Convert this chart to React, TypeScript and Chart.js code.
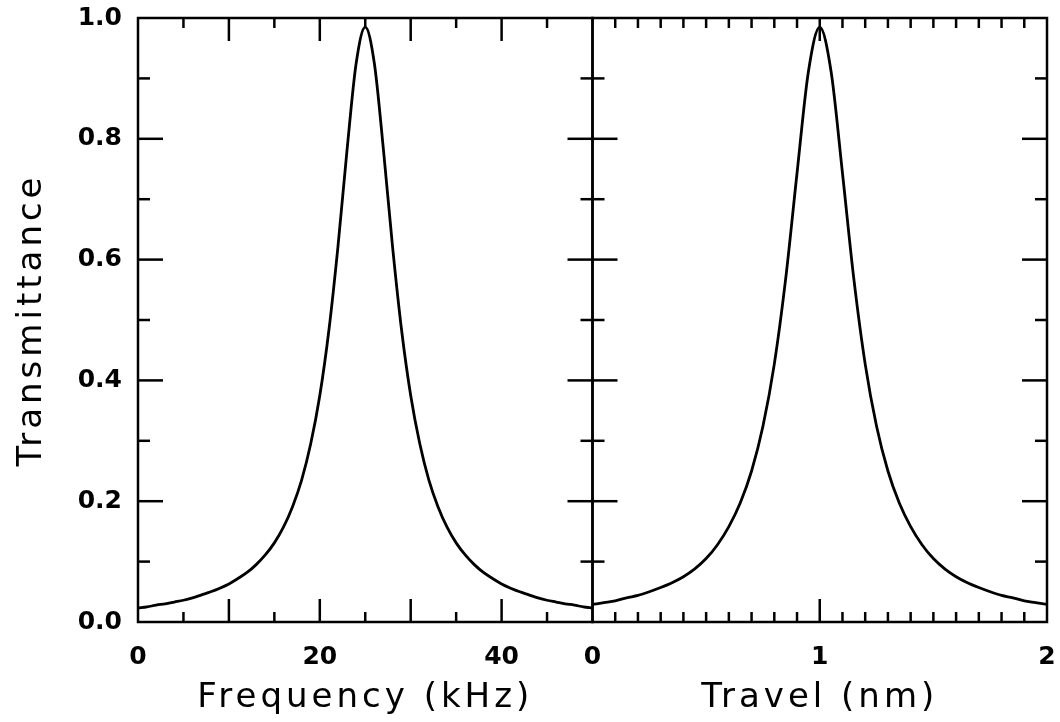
import React, { useEffect, useRef } from 'react';
import { Chart, registerables } from 'chart.js';

Chart.register(...registerables);

// ---- data ----
const freqKHz = [
  0, 1, 2, 3, 4, 5, 6, 7, 8, 9, 10, 11, 12, 13, 14, 15, 16, 17, 18, 19, 20, 21, 22, 23, 24, 25,
  26, 27, 28, 29, 30, 31, 32, 33, 34, 35, 36, 37, 38, 39, 40, 41, 42, 43, 44, 45, 46, 47, 48, 49, 50,
];
const transFreq = [
  0.023, 0.025, 0.028, 0.030, 0.033, 0.036, 0.040, 0.045, 0.050, 0.056, 0.063, 0.072, 0.082, 0.095,
  0.111, 0.131, 0.157, 0.191, 0.235, 0.295, 0.375, 0.483, 0.622, 0.782, 0.925, 0.985,
  0.925, 0.782, 0.622, 0.483, 0.375, 0.295, 0.235, 0.191, 0.157, 0.131, 0.111, 0.095, 0.082, 0.072,
  0.063, 0.056, 0.050, 0.045, 0.040, 0.036, 0.033, 0.030, 0.028, 0.025, 0.023,
];

const travelNm = [
  0, 0.05, 0.1, 0.15, 0.2, 0.25, 0.3, 0.35, 0.4, 0.45, 0.5, 0.55, 0.6, 0.65, 0.7, 0.75, 0.8, 0.85,
  0.9, 0.95, 1.0, 1.05, 1.1, 1.15, 1.2, 1.25, 1.3, 1.35, 1.4, 1.45, 1.5, 1.55, 1.6, 1.65, 1.7, 1.75,
  1.8, 1.85, 1.9, 1.95, 2.0,
];
const transTravel = [
  0.029, 0.032, 0.035, 0.040, 0.044, 0.050, 0.057, 0.065, 0.075, 0.088, 0.105, 0.128, 0.158, 0.197,
  0.250, 0.324, 0.427, 0.568, 0.743, 0.911, 0.985, 0.911, 0.743, 0.568, 0.427, 0.324, 0.250, 0.197,
  0.158, 0.128, 0.105, 0.088, 0.075, 0.065, 0.057, 0.050, 0.044, 0.040, 0.035, 0.032, 0.029,
];

const freqTickLabels = [0, 20, 40];
const travelTickLabels = [0, 1, 2];
const yTickLabels = [0, 0.2, 0.4, 0.6, 0.8, 1.0];

const freqRange = [0, 50];
const travelRange = [0, 2];
const yRange = [0, 1];
const freqMajorStep = 10;
const freqMinorStep = 5;
const travelMajorStep = 1;
const travelMinorStep = 0.1;
const yMajorStep = 0.2;
const yMinorStep = 0.1;

const xTitleLeft = 'Frequency (kHz)';
const xTitleRight = 'Travel (nm)';
const yTitle = 'Transmittance';

const FONT = "'DejaVu Sans', sans-serif";
const TITLE_SPACING = '4px';

const isMult = (v: number, step: number) => Math.abs(v / step - Math.round(v / step)) < 1e-6;

const zeroPadding = (s: any) => {
  s.paddingTop = 0;
  s.paddingBottom = 0;
  s.paddingLeft = 0;
  s.paddingRight = 0;
};

const framePlugin = {
  id: 'panelFrames',
  beforeDraw(chart: any) {
    Object.values(chart.scales).forEach((s: any) => {
      if (!s.__spaced) {
        const orig = s.drawTitle;
        s.drawTitle = function (...args: any[]) {
          const c = this.ctx;
          c.save();
          c.letterSpacing = TITLE_SPACING;
          orig.apply(this, args);
          c.restore();
        };
        s.__spaced = true;
      }
    });
  },
  afterDatasetsDraw(chart: any) {
    const { ctx } = chart;
    const y = chart.scales.y;
    const yTop = y.getPixelForValue(yRange[1]);
    const yBot = y.getPixelForValue(yRange[0]);
    const panels = [
      { scale: chart.scales.x1, range: freqRange, major: freqMajorStep, minor: freqMinorStep },
      { scale: chart.scales.x2, range: travelRange, major: travelMajorStep, minor: travelMinorStep },
    ];
    ctx.save();
    ctx.strokeStyle = '#000';
    ctx.lineWidth = 2.5;
    ctx.lineCap = 'butt';
    const line = (x1: number, y1: number, x2: number, y2: number) => {
      ctx.beginPath();
      ctx.moveTo(x1, y1);
      ctx.lineTo(x2, y2);
      ctx.stroke();
    };
    panels.forEach(({ scale, range, major, minor }) => {
      const l = scale.getPixelForValue(range[0]);
      const r = scale.getPixelForValue(range[1]);
      ctx.strokeRect(l, yTop, r - l, yBot - yTop);
      const n = Math.round((range[1] - range[0]) / minor);
      for (let i = 1; i < n; i++) {
        const v = range[0] + i * minor;
        const len = isMult(v, major) ? 23 : 10;
        const px = scale.getPixelForValue(v);
        line(px, yBot, px, yBot - len);
        line(px, yTop, px, yTop + len);
      }
      const m = Math.round((yRange[1] - yRange[0]) / yMinorStep);
      for (let j = 1; j < m; j++) {
        const v = yRange[0] + j * yMinorStep;
        const len = isMult(v, yMajorStep) ? 25 : 12;
        const py = y.getPixelForValue(v);
        line(l, py, l + len, py);
        line(r, py, r - len, py);
      }
    });
    ctx.restore();
  },
};

export default function App() {
  const canvasRef = useRef<HTMLCanvasElement | null>(null);

  useEffect(() => {
    const canvas = canvasRef.current;
    if (!canvas) return;
    const tickFont = { family: FONT, size: 25, weight: 'bold' as const };
    const titleFont = { family: FONT, size: 34, weight: 'normal' as const };

    const chart = new Chart(canvas, {
      type: 'line',
      data: {
        datasets: [
          {
            data: freqKHz.map((x, i) => ({ x, y: transFreq[i] })),
            xAxisID: 'x1',
            yAxisID: 'y',
            borderColor: '#000',
            borderWidth: 2.8,
            pointRadius: 0,
            cubicInterpolationMode: 'monotone',
            fill: false,
          },
          {
            data: travelNm.map((x, i) => ({ x, y: transTravel[i] })),
            xAxisID: 'x2',
            yAxisID: 'y',
            borderColor: '#000',
            borderWidth: 2.8,
            pointRadius: 0,
            cubicInterpolationMode: 'monotone',
            fill: false,
          },
        ],
      },
      options: {
        responsive: false,
        animation: false,
        events: [],
        layout: { padding: { left: 0, top: 18, right: 13, bottom: 0 } },
        plugins: { legend: { display: false }, tooltip: { enabled: false } },
        scales: {
          x1: {
            type: 'linear',
            position: 'bottom',
            stack: 'panels',
            stackWeight: 1,
            min: freqRange[0],
            max: freqRange[1],
            afterBuildTicks: (s: any) => {
              s.ticks = freqTickLabels.map((value) => ({ value }));
            },
            afterFit: (s: any) => {
              s.height = 100;
              zeroPadding(s);
            },
            grid: { display: false, drawTicks: false, tickLength: 0 },
            border: { display: false },
            ticks: { autoSkip: false, maxRotation: 0, padding: 20, font: tickFont, color: '#000' },
            title: { display: true, text: xTitleLeft, font: titleFont, color: '#000', padding: { top: 0, bottom: 3 } },
          },
          x2: {
            type: 'linear',
            position: 'bottom',
            stack: 'panels',
            stackWeight: 1,
            min: travelRange[0],
            max: travelRange[1],
            afterBuildTicks: (s: any) => {
              s.ticks = travelTickLabels.map((value) => ({ value }));
            },
            afterFit: (s: any) => {
              s.height = 100;
              zeroPadding(s);
            },
            grid: { display: false, drawTicks: false, tickLength: 0 },
            border: { display: false },
            ticks: { autoSkip: false, maxRotation: 0, padding: 20, font: tickFont, color: '#000' },
            title: { display: true, text: xTitleRight, font: titleFont, color: '#000', padding: { top: 0, bottom: 3 } },
          },
          y: {
            type: 'linear',
            position: 'left',
            min: yRange[0],
            max: yRange[1],
            afterBuildTicks: (s: any) => {
              s.ticks = yTickLabels.map((value) => ({ value }));
            },
            afterFit: (s: any) => {
              s.width = 138;
              zeroPadding(s);
            },
            grid: { display: false, drawTicks: false, tickLength: 0 },
            border: { display: false },
            ticks: {
              autoSkip: false,
              padding: 16,
              font: tickFont,
              color: '#000',
              callback: (v: any) => Number(v).toFixed(1),
            },
            title: { display: true, text: yTitle, font: titleFont, color: '#000', padding: { top: 12, bottom: 0 } },
          },
        },
      } as any,
      plugins: [framePlugin],
    });
    return () => chart.destroy();
  }, []);

  return (
    <div style={{ position: 'fixed', left: 0, top: 0, width: 1060, height: 722, background: '#fff' }}>
      <canvas ref={canvasRef} width={1060} height={722} style={{ width: 1060, height: 722, display: 'block' }} />
    </div>
  );
}
